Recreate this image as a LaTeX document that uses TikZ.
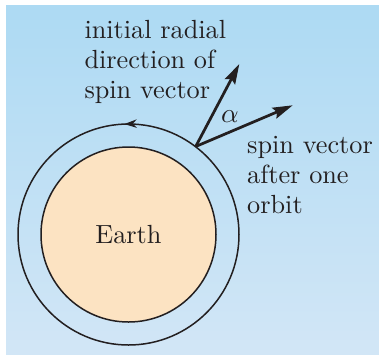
\documentclass[tikz,border=0pt]{standalone}
\usepackage{tikz}
\usetikzlibrary{arrows.meta,calc,decorations.markings}

\definecolor{skytop}{RGB}{173,218,243}
\definecolor{skybot}{RGB}{210,230,246}
\definecolor{earthfill}{RGB}{252,227,194}
\definecolor{inkgray}{RGB}{35,31,32}

\begin{document}
\begin{tikzpicture}[
    x=0.4pt, y=0.4pt,
    every node/.style={text=inkgray, inner sep=0pt, font=\fontsize{10.5}{12}\selectfont},
    ring/.style={draw=inkgray, line width=0.6pt},
    spin/.style={draw=inkgray, line width=1.1pt, -{Stealth[length=8pt,width=4.6pt,inset=1.2pt]}},
    label/.style={align=left, anchor=base west}
]
    \useasboundingbox (0,0) rectangle (379,355);
    % --- background ---
    \shade[top color=skytop, bottom color=skybot] (6,1) rectangle (379,350);

    % --- Earth and orbit ---
    \coordinate (centre) at (128.5,120.5);
    \draw[ring, fill=earthfill] (centre) circle[radius=87.5];
    \node (earth) at (centre) {Earth};
    \draw[ring, postaction={decorate}, decoration={markings,
        mark=at position 0.256 with {\arrow{Stealth[length=5pt,width=3.4pt]}}}]
        (centre) ++(0:110.5) arc[start angle=0, end angle=360, radius=110.5];

    % --- spin vectors ---
    \coordinate (start) at (195.7,208.5);
    \coordinate (initial) at (239.3,291);
    \coordinate (after) at (292.7,249.7);
    \draw[spin] (start) -- (initial);
    \draw[spin] (start) -- (after);
    \draw[inkgray, line width=0.4pt] ($(start)!32!(after)$) arc[start angle=23.1, end angle=62.2, radius=32];
    \node (alpha) at (230,238) {$\alpha$};

    % --- labels (base = last line) ---
    \node[label] (initlabel) at (84,257) {initial radial\\direction of\\spin vector};
    \node[label] (afterlabel) at (246.7,142) {spin vector\\after one\\orbit};
\end{tikzpicture}
\end{document}
